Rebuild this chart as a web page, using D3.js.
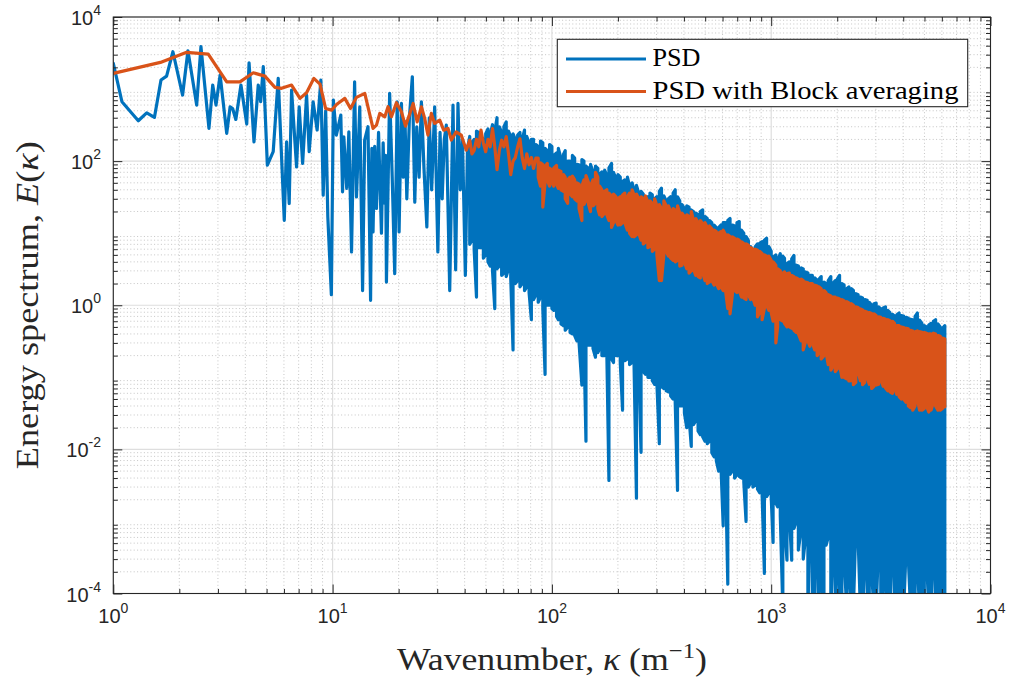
<!DOCTYPE html>
<html><head><meta charset="utf-8">
<script src="https://cdn.jsdelivr.net/npm/d3@7"></script>
<style>body{margin:0;background:#fff;}svg{display:block;}</style>
</head><body>
<svg id="c" width="1014" height="684"></svg>
<script>
// ---------- data ----------
// low-wavenumber part, individual samples
const psdLowK = [1.00,1.095,1.30,1.42,1.54,1.65,1.75,1.87,2.07,2.19,2.40,2.51,2.73,2.84,2.94,3.07,3.29,3.41,3.50,3.62,3.82,4.06,4.16,4.38,4.58,4.70,4.83,5.04,5.36,5.65,6.02,6.17,6.34,6.50,6.85,7.04,7.30,7.61,7.82,8.15,8.50,8.84,9.06,9.30,9.51,9.87,10.08,10.4,10.9,11.1,11.25,11.6,11.86,12.2,12.6,12.85,13.3,13.7,14.0,14.5,14.9,15.1,15.29,15.55,15.85,16.2,16.7,17.0,17.3,17.45,17.6,18.2,18.7,19.2,19.7,20.1,20.6,21.0,21.4,21.8,22.4,23.1,23.7,24.2,24.8,25.4,26.1,26.9,27.6,28.3,29.2,30.2,30.9,31.6,32.3,33.0,34.2,35.4,36.4,37.3,38.2,39.1,40.3,41.2];
const psdLowE = [2270,667,363,468,404,1334,1513,3296,826,3400,600,3870,285,1137,600,1565,243,568,538,379,1137,327,2316,185,1137,667,2042,88,135,1406,15.1,185,25.8,968,83.4,568,93,826,135,667,270,1334,33.7,500,16.9,1.4,703,230,435,37.5,218,41.8,255,5.5,1262,31.9,568,1.6,196,300,1.17,150,10.4,160,22,250,10,180,26,120,2.1,871,60,2.75,667,10.4,631,60,350,30,400,1483,27,300,60,667,80,12.2,400,40,568,5.5,250,30,200,316,1.6,600,3.1,631,40,200,2.6,150];

const blockLowK = [1.00,1.64,2.16,2.71,3.29,3.78,4.35,4.91,5.46,5.85,6.50,7.10,7.61,8.21,8.76,9.29,9.9,10.45,11.37,12.07,12.85,14.02,15.29,15.85,16.41,17.3,17.9,18.55,19.54,20.6,21.5,22.5,23.3,24.3,25.4,26.3,27.2,28.2,29.2,30.8,32.1,33.6,34.8,36.6,38.6,40.7];
const blockLowE = [1652,2345,3236,3062,1260,1260,1683,1513,1055,1023,1137,743,889,1406,1172,538,510,617,743,538,767,871,285,316,459,412,568,412,646,484,306,459,631,351,568,392,230,459,334,371,269,285,196,255,230,142];

// dense part: wavenumber bins, with the highest and lowest value seen in each bin
const kDense = [42.2,43.2,44.2,45.3,46.4,47.5,48.7,49.9,51.1,52.3,53.6,54.9,56.2,57.6,59.0,60.4,61.9,63.4,64.9,66.5,68.1,69.8,71.5,73.2,75.0,76.8,78.7,80.6,82.5,84.5,86.6,88.7,90.9,93.1,95.3,97.6,
100,102,105,107,110,113,115,118,121,124,127,130,133,137,140,143,147,150,154,158,162,165,169,174,178,182,187,191,196,200,205,210,215,221,226,232,237,243,249,255,261,267,274,280,287,294,301,309,316,324,332,340,348,357,365,374,383,392,402,412,422,432,442,453,464,475,487,499,511,523,536,549,562,576,590,604,619,634,649,665,681,698,715,732,750,768,787,806,825,845,866,887,909,931,953,976,
1000,1020,1050,1070,1100,1130,1150,1180,1210,1240,1270,1300,1330,1370,1400,1430,1470,1500,1540,1580,1620,1650,1690,1740,1780,1820,1870,1910,1960,2000,2050,2100,2150,2210,2260,2320,2370,2430,2490,2550,2610,2670,2740,2800,2870,2940,3010,3090,3160,3240,3320,3400,3480,3570,3650,3740,3830,3920,4020,4120,4220,4320,4420,4530,4640,4750,4870,4990,5110,5230,5360,5490,5620,5760,5900,6040,6190];

const psdHi = [220,180,200,260,250,210,200,240,280,230,320,260,400,300,250,300,350,260,220,240,200,230,250,200,270,220,180,200,200,170,160,190,180,150,140,170,
160,120,130,150,110,125,140,100,100,120,110,90,89,105,100,85,79,90,71,85,79,65,71,75,63,80,93,70,56,65,60,52,55,60,45,50,40,46,36,38,35,30,32,36,34,30,32,38,42,33,28,30,32,36,40,32,28,25,22,24,23,21,20,19,18,20,21,17,16,15,14,13,12,12,13,14,14,15,16,13,12.6,14,14.5,11,10,9,7.9,6.5,5.8,6.5,7.1,7.3,7.6,8.0,8.5,6.5,
5.6,4.6,5.0,4.2,5.2,4.8,4.5,3.8,4.0,4.4,4.9,3.6,3.5,3.3,3.2,2.9,2.8,2.6,2.6,2.4,2.2,2.3,2.5,2.1,2.0,2.2,2.5,2.0,2.2,2.3,2.6,2.0,1.9,1.7,1.8,1.7,1.6,1.45,1.4,1.3,1.26,1.2,1.17,1.1,1.0,1.05,1.07,0.95,0.89,0.92,0.95,0.85,0.79,0.75,0.71,0.74,0.78,0.72,0.71,0.68,0.66,0.64,0.63,0.7,0.78,0.62,0.56,0.52,0.5,0.53,0.56,0.6,0.63,0.55,0.5,0.48,0.52];
const psdLo = [7,8,6,1.3,6.3,6.3,4.5,5.0,4,3.5,3,0.9,3.2,3.5,2.6,2.8,2.5,3.2,2.4,0.24,2.0,2.2,1.8,2.0,1.6,1.8,1.5,0.63,1.2,1.4,1.1,1.3,0.9,0.11,1.0,1.0,
0.9,0.85,0.7,0.63,0.55,0.52,0.45,0.5,0.42,0.4,0.38,0.32,0.3,0.078,0.3,0.013,0.28,0.28,0.25,0.19,0.22,0.25,0.2,0.2,0.22,0.0037,0.18,0.16,0.2,0.2,0.16,0.035,0.17,0.18,0.15,0.16,0.14,0.0021,0.13,0.0091,0.12,0.11,0.1,0.1,0.09,0.08,0.085,0.012,0.075,0.07,0.065,0.063,0.055,0.05,0.045,0.0027,0.04,0.04,0.032,0.02,0.028,0.011,0.022,0.025,0.018,0.016,0.015,0.013,0.012,0.013,0.009,0.0079,0.007,0.005,0.006,0.00087,0.005,0.000135,0.0045,0.005,0.004,0.0045,0.0042,0.004,0.0035,0.001,0.003,0.0035,0.003,0.0032,0.0028,0.0025,0.0024,0.00019,0.0022,0.0025,
0.0022,0.00051,0.0018,0.0016,0.0012,6e-5,0.0009,0.00029,0.0012,0.00029,0.0008,0.001,0.0004,0.0008,0.0003,0.00055,6e-5,0.00063,6e-5,6e-5,0.0004,6e-5,0.00014,6e-5,0.00047,0.0006,6e-5,0.00032,6e-5,0.00025,6e-5,6e-5,0.00032,6e-5,0.0002,6e-5,6e-5,0.0008,0.0006,6e-5,6e-5,0.00025,6e-5,6e-5,0.0002,6e-5,6e-5,0.0005,6e-5,6e-5,0.00016,6e-5,6e-5,0.0004,6e-5,6e-5,0.000126,6e-5,6e-5,0.0004,0.0003,6e-5,6e-5,6e-5,0.00025,6e-5,6e-5,6e-5,0.0003,6e-5,6e-5,0.00032,6e-5,6e-5,6e-5,6e-5,6e-5];

// block-averaged spectrum: single values on the first 30 bins, then high/low per bin
const blockMid = [195,126,141,200,158,270,178,135,200,158,282,158,76,141,195,158,219,126,65,100,112,158,204,112,79,126,89,112,79,110];
const blockHi = [110,95,90,85,93,80,75,80,87,75,72,65,60,55,60,62,55,50,48,45,55,63,50,45,55,70,60,45,40,38,40,36,33,35,32,30,32,34,36,32,
36,40,34,35,30,32,30,33,27,28,26,30,24,25,22,28,24,24,20,22,21,24,19,19,17,18,17,20,15,16,14,15,13.5,14,12,12.6,11.5,11,10.5,10,10.5,11,9.5,9.5,9,8.9,8.5,8.3,8,7.6,7.2,7.1,6.8,6.3,6.0,6.0,5.8,5.6,5.2,5.0,4.8,4.8,
4.2,4.0,3.6,3.2,3.0,2.8,2.9,2.75,2.8,2.6,2.5,2.4,2.3,2.3,2.2,2.1,2.05,2.0,2.0,1.9,1.85,1.8,1.7,1.6,1.5,1.4,1.35,1.3,1.3,1.26,1.22,1.2,1.15,1.12,1.08,1.05,1.0,0.95,0.93,0.89,0.86,0.83,0.8,0.79,0.77,0.76,0.72,0.69,0.68,0.66,0.64,0.63,0.61,0.6,0.56,0.52,0.52,0.5,0.49,0.48,0.47,0.45,0.44,0.43,0.44,0.43,0.42,0.42,0.41,0.4,0.4,0.41,0.4,0.38,0.37,0.35,0.34];
const blockLo = [60,45,23,50,55,45,50,45,48,42,40,38,30,26,35,32,30,28,22,15,25,28,25,20,24,26,22,18,17,19,18,15,12,14,15,13,13,14,14,11,
10,9,8.9,9.5,10,8,7.1,7.5,6.3,6.5,5.6,6.0,5.0,2.2,2.2,5.0,5.6,4.8,4.5,4.2,4.0,4.2,3.5,3.6,4.0,3.2,2.8,3.0,3.2,2.6,2.5,2.4,2.8,2.2,2.0,2.1,2.2,1.9,2.0,1.7,1.8,1.6,1.6,0.9,0.76,1.4,1.6,1.5,1.6,1.3,1.26,1.2,1.4,1.2,1.26,1.0,0.69,0.8,0.63,0.9,1.0,0.85,
0.79,0.6,0.3,0.5,0.63,0.6,0.56,0.5,0.5,0.48,0.45,0.42,0.4,0.32,0.24,0.3,0.32,0.27,0.3,0.24,0.2,0.22,0.18,0.2,0.22,0.15,0.126,0.14,0.12,0.13,0.15,0.1,0.1,0.095,0.089,0.09,0.079,0.085,0.12,0.09,0.079,0.085,0.1,0.08,0.07,0.075,0.078,0.08,0.095,0.075,0.071,0.065,0.063,0.06,0.07,0.058,0.054,0.05,0.05,0.045,0.04,0.038,0.035,0.04,0.05,0.035,0.035,0.037,0.04,0.033,0.035,0.045,0.04,0.035,0.035,0.037,0.039];

const xTickVals = [1,10,100,1000,10000];
const xTickExp = ["0","1","2","3","4"];
const yTickVals = [1e-4,1e-2,1,1e2,1e4];
const yTickExp = ["-4","-2","0","2","4"];
const seriesNames = ["PSD","PSD with Block averaging"];
const seriesColors = ["#0072BD","#D95319"];

// ---------- drawing ----------
const svg = d3.select("#c");
const M = {l:113.3, r:990.5, t:17, b:593.5};
const x = d3.scaleLog().domain([1,1e4]).range([M.l,M.r]);
const y = d3.scaleLog().domain([1e-4,1e4]).range([M.b,M.t]);
const AX = "#262626";

svg.append("rect").attr("width",1014).attr("height",684).attr("fill","#fff");

const minorX = [], minorY = [];
[1,10,100,1000].forEach(d=>{for(let m=2;m<=9;m++) minorX.push(d*m);});
[1e-4,1e-3,1e-2,1e-1,1,10,100,1000].forEach(d=>{for(let m=2;m<=9;m++) minorY.push(d*m);});

const grid = svg.append("g");
grid.selectAll(".mgx").data(minorX).join("line")
  .attr("x1",d=>x(d)).attr("x2",d=>x(d)).attr("y1",M.t).attr("y2",M.b)
  .attr("stroke","#b8b8b8").attr("stroke-width",0.8).attr("stroke-dasharray","1,2.4");
grid.selectAll(".mgy").data(minorY).join("line")
  .attr("y1",d=>y(d)).attr("y2",d=>y(d)).attr("x1",M.l).attr("x2",M.r)
  .attr("stroke","#b8b8b8").attr("stroke-width",0.8).attr("stroke-dasharray","1,2.4");
grid.selectAll(".Mgx").data(xTickVals).join("line")
  .attr("x1",d=>x(d)).attr("x2",d=>x(d)).attr("y1",M.t).attr("y2",M.b)
  .attr("stroke","#dedede").attr("stroke-width",1.2);
grid.selectAll(".Mgy").data(yTickVals).join("line")
  .attr("y1",d=>y(d)).attr("y2",d=>y(d)).attr("x1",M.l).attr("x2",M.r)
  .attr("stroke","#dedede").attr("stroke-width",1.2);

svg.append("clipPath").attr("id","clip").append("rect")
  .attr("x",M.l).attr("y",M.t).attr("width",M.r-M.l).attr("height",M.b-M.t);

// build the two series in wavenumber order
const psd = psdLowK.map((k,i)=>[k,psdLowE[i]]);
kDense.forEach((k,j)=>{
  if(j%2===0){ psd.push([k,psdHi[j]],[k,psdLo[j]]); }
  else { psd.push([k,psdLo[j]],[k,psdHi[j]]); }
});
const block = blockLowK.map((k,i)=>[k,blockLowE[i]]);
blockMid.forEach((v,j)=>block.push([kDense[j],v]));
const off = blockMid.length;
blockHi.forEach((v,i)=>{
  const j = off+i, k = kDense[j];
  if(j%2===0){ block.push([k,v],[k,blockLo[i]]); }
  else { block.push([k,blockLo[i]],[k,v]); }
});

const line = d3.line().x(d=>x(d[0])).y(d=>y(d[1]));
const plot = svg.append("g").attr("clip-path","url(#clip)");
[psd, block].forEach((s,i)=>{
  plot.append("path").attr("d",line(s)).attr("fill","none")
    .attr("stroke",seriesColors[i]).attr("stroke-width",3.2)
    .attr("stroke-linejoin","round").attr("stroke-linecap","round");
});

// axes ticks (inward, all four sides)
function ticks(axisFn, vals, size, tr){
  const g = svg.append("g").attr("transform",tr).attr("color",AX)
    .call(axisFn.tickValues(vals).tickSizeInner(-size).tickSizeOuter(0).tickFormat(""));
  g.select(".domain").remove();
  g.selectAll("line").attr("stroke-width",1);
}
ticks(d3.axisBottom(x), xTickVals, 9, `translate(0,${M.b})`);
ticks(d3.axisBottom(x), minorX, 4.5, `translate(0,${M.b})`);
ticks(d3.axisTop(x), xTickVals, 9, `translate(0,${M.t})`);
ticks(d3.axisTop(x), minorX, 4.5, `translate(0,${M.t})`);
ticks(d3.axisLeft(y), yTickVals, 9, `translate(${M.l},0)`);
ticks(d3.axisLeft(y), minorY, 4.5, `translate(${M.l},0)`);
ticks(d3.axisRight(y), yTickVals, 9, `translate(${M.r},0)`);
ticks(d3.axisRight(y), minorY, 4.5, `translate(${M.r},0)`);

svg.append("rect").attr("x",M.l).attr("y",M.t).attr("width",M.r-M.l).attr("height",M.b-M.t)
  .attr("fill","none").attr("stroke",AX).attr("stroke-width",1.1);

// tick labels
const tf = "'Liberation Sans', Arial, sans-serif";
xTickVals.forEach((v,i)=>{
  const t = svg.append("text").attr("x",x(v)).attr("y",623).attr("text-anchor","middle")
    .attr("font-family",tf).attr("font-size",20).attr("fill",AX);
  t.append("tspan").text("10");
  t.append("tspan").attr("dy",-10).attr("font-size",14).text(xTickExp[i]);
});
yTickVals.forEach((v,i)=>{
  const t = svg.append("text").attr("x",101).attr("y",y(v)+8).attr("text-anchor","end")
    .attr("font-family",tf).attr("font-size",20).attr("fill",AX);
  t.append("tspan").text("10");
  t.append("tspan").attr("dy",-10).attr("font-size",14).text(yTickExp[i]);
});

// axis labels
const sf = "'Liberation Serif', 'Times New Roman', serif";
const xl = svg.append("text").attr("x",(M.l+M.r)/2).attr("y",670).attr("text-anchor","middle")
  .attr("font-family",sf).attr("font-size",32).attr("fill",AX)
  .attr("textLength",310).attr("lengthAdjust","spacingAndGlyphs");
xl.append("tspan").text("Wavenumber, ");
xl.append("tspan").attr("font-style","italic").text("κ");
xl.append("tspan").text(" (m");
xl.append("tspan").attr("dy",-12).attr("font-size",22).text("−1");
xl.append("tspan").attr("dy",12).text(")");

const yl = svg.append("text").attr("transform",`translate(38,${(M.t+M.b)/2}) rotate(-90)`)
  .attr("text-anchor","middle").attr("font-family",sf).attr("font-size",32).attr("fill",AX)
  .attr("textLength",328).attr("lengthAdjust","spacingAndGlyphs");
yl.append("tspan").text("Energy spectrum, ");
yl.append("tspan").attr("font-style","italic").text("E");
yl.append("tspan").text("(");
yl.append("tspan").attr("font-style","italic").text("κ");
yl.append("tspan").text(")");

// legend
const lg = svg.append("g");
lg.append("rect").attr("x",557.3).attr("y",39.3).attr("width",410.4).attr("height",67.4)
  .attr("fill","#fff").attr("stroke",AX).attr("stroke-width",1.1);
seriesNames.forEach((n,i)=>{
  const yy = 59 + i*32.5;
  lg.append("line").attr("x1",566).attr("x2",646).attr("y1",yy).attr("y2",yy)
    .attr("stroke",seriesColors[i]).attr("stroke-width",3.2);
  const t = lg.append("text").attr("x",652.5).attr("y",yy+7).attr("font-family",sf)
    .attr("font-size",25).attr("fill","#000").text(n);
  if(i===1) t.attr("textLength",306).attr("lengthAdjust","spacingAndGlyphs");
  if(i===0) t.attr("textLength",48).attr("lengthAdjust","spacingAndGlyphs");
});
</script>
</body></html>
